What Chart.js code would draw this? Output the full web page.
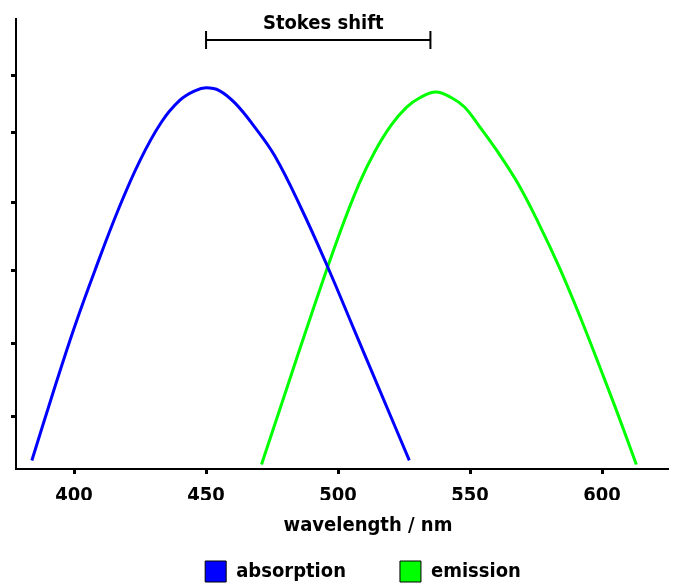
<!DOCTYPE html>
<html>
<head>
<meta charset="utf-8">
<title>Stokes shift</title>
<script src="https://cdn.jsdelivr.net/npm/chart.js@4.4.1/dist/chart.umd.min.js"></script>
<style>
  html, body { margin: 0; padding: 0; background: #fff; }
  #wrap { width: 674px; height: 585px; }
</style>
</head>
<body>
<div id="wrap"><canvas id="spectra"></canvas></div>
<script>
// wavelength (nm) and relative intensity
var absWavelength = [384, 392, 400, 408, 417, 425, 433, 440, 446, 450, 455, 461, 468, 476, 486, 496, 506, 516, 527];
var absIntensity  = [1.9, 16.9, 31.3, 44.3, 58.0, 68.6, 77.0, 81.9, 84.1, 84.7, 84.1, 81.3, 76.3, 69.6, 58.0, 45.0, 31.1, 17.2, 1.9];
var emWavelength  = [471, 480, 490, 500, 508, 514, 520, 526, 531, 537, 543, 548, 553, 560, 568, 576, 584, 592, 600, 606, 613];
var emIntensity   = [1.0, 16.9, 34.5, 51.4, 63.4, 70.6, 76.3, 80.4, 82.5, 83.8, 82.5, 80.4, 76.6, 70.9, 63.6, 54.6, 44.6, 33.4, 21.4, 12.2, 1.0];

var xTicks = [400, 450, 500, 550, 600];
var yTicks = [11.6, 28, 44.2, 59.3, 74.7, 87.4];   // unlabelled marks on the intensity axis
var stokesShift = [450, 535];                        // absorption max -> emission max

var FONT = "'DejaVu Sans Condensed', 'DejaVu Sans', sans-serif";

function toPoints(xs, ys) {
  return xs.map(function (x, i) { return { x: x, y: ys[i] }; });
}

var annotate = {
  id: 'annotate',
  afterLayout: function (chart) {
    // legend sits right of centre and lower in the original
    var lg = chart.legend;
    lg.left += 29; lg.right += 29;
    lg.top += 7; lg.bottom += 7;
  },
  afterDraw: function (chart) {
    var ctx = chart.ctx, area = chart.chartArea, sx = chart.scales.x;
    var x0 = sx.getPixelForValue(stokesShift[0]);
    var x1 = sx.getPixelForValue(stokesShift[1]);
    var yb = area.top + 21;
    ctx.save();
    ctx.strokeStyle = '#000';
    ctx.lineWidth = 2;
    ctx.beginPath();
    ctx.moveTo(x0, yb); ctx.lineTo(x1, yb);
    ctx.moveTo(x0, yb - 9); ctx.lineTo(x0, yb + 9);
    ctx.moveTo(x1, yb - 9); ctx.lineTo(x1, yb + 9);
    ctx.stroke();
    ctx.fillStyle = '#000';
    ctx.font = 'bold 20px ' + FONT;
    ctx.textAlign = 'center';
    ctx.textBaseline = 'alphabetic';
    ctx.fillText('Stokes shift', (x0 + x1) / 2 + 5, area.top + 10);
    // axis title
    ctx.fillText('wavelength / nm', (area.left + area.right) / 2 + 26, area.bottom + 62);
    ctx.restore();
  }
};

new Chart(document.getElementById('spectra'), {
  type: 'line',
  data: {
    datasets: [
      {
        label: 'absorption',
        data: toPoints(absWavelength, absIntensity),
        borderColor: '#0000ff',
        backgroundColor: '#0000ff'
      },
      {
        label: 'emission',
        data: toPoints(emWavelength, emIntensity),
        borderColor: '#00ff00',
        backgroundColor: '#00ff00'
      }
    ]
  },
  options: {
    responsive: true,
    maintainAspectRatio: false,
    animation: false,
    layout: { padding: { top: 19, right: 6, left: 0, bottom: 0 } },
    elements: {
      line: { borderWidth: 3, fill: false, tension: 0.4 },
      point: { radius: 0 }
    },
    scales: {
      x: {
        type: 'linear',
        min: 378,
        max: 625,
        afterBuildTicks: function (s) { s.ticks = xTicks.map(function (v) { return { value: v }; }); },
        afterFit: function (s) { s.height = 31; },
        grid: { drawOnChartArea: false, color: '#000', tickLength: 5, tickWidth: 3 },
        border: { color: '#000', width: 2 },
        ticks: { color: '#000', padding: 10, maxRotation: 0, autoSkip: false,
                 font: { family: FONT, size: 20, weight: 'bold' } }
      },
      y: {
        min: 0,
        max: 100,
        afterBuildTicks: function (s) { s.ticks = yTicks.map(function (v) { return { value: v }; }); },
        afterFit: function (s) { s.width = 16; },
        grid: { drawOnChartArea: false, color: '#000', tickLength: 5, tickWidth: 3 },
        border: { color: '#000', width: 2 },
        ticks: { callback: function () { return ''; } }
      }
    },
    plugins: {
      tooltip: { enabled: false },
      legend: {
        position: 'bottom',
        labels: {
          boxWidth: 21,
          boxHeight: 21,
          padding: 54,
          color: '#000',
          font: { family: FONT, size: 20, weight: 'bold' },
          generateLabels: function (chart) {
            return Chart.defaults.plugins.legend.labels.generateLabels(chart).map(function (l) {
              l.strokeStyle = '#000';
              l.lineWidth = 1;
              return l;
            });
          }
        }
      }
    }
  },
  plugins: [annotate]
});
</script>
</body>
</html>
